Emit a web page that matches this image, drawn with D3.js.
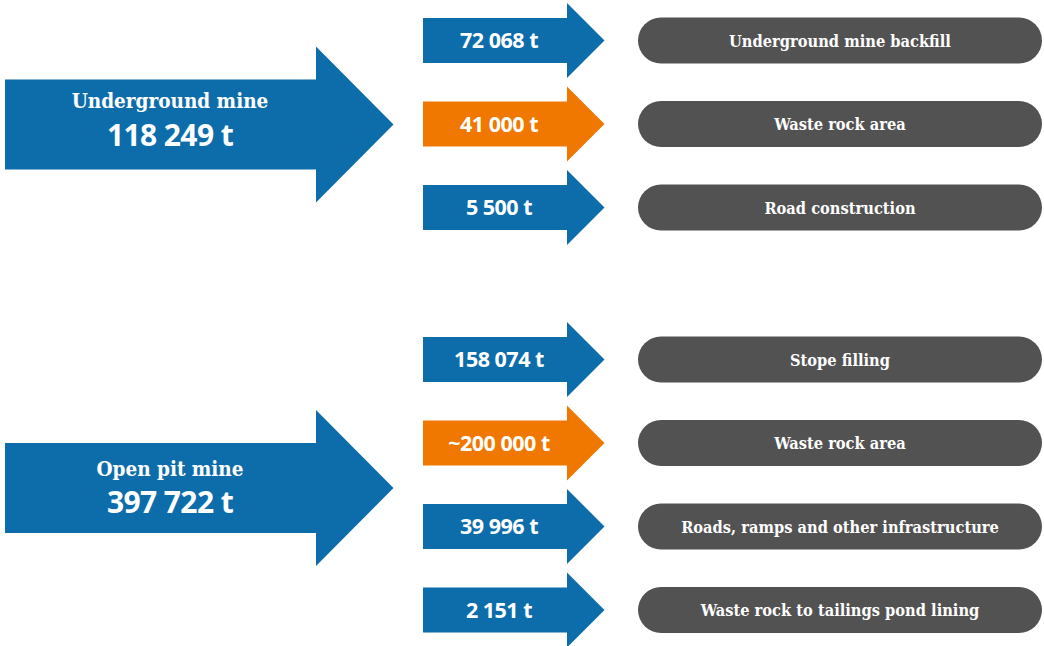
<!DOCTYPE html>
<html>
<head>
<meta charset="utf-8">
<script src="https://cdn.jsdelivr.net/npm/d3@7"></script>
<style>
  html, body { margin: 0; padding: 0; background: #ffffff; }
  svg { display: block; }
</style>
</head>
<body>
<svg id="chart" width="1044" height="646"></svg>
<script>
// ---- data ----
const sourceNames = ["Underground mine", "Open pit mine"];
const sourceTotals = [118249, 397722];

const flowGroup = [0, 0, 0, 1, 1, 1, 1];
const flowValues = [72068, 41000, 5500, 158074, 200000, 39996, 2151];
const flowApprox = [false, false, false, false, true, false, false];
const flowDestinations = [
  "Underground mine backfill",
  "Waste rock area",
  "Road construction",
  "Stope filling",
  "Waste rock area",
  "Roads, ramps and other infrastructure",
  "Waste rock to tailings pond lining"
];
const flowKind = ["use", "waste", "use", "use", "waste", "use", "use"];

// ---- layout & style ----
const W = 1044, H = 646;
const blue = "#0d6dab", orange = "#f07700", gray = "#525252";
const serif = "'DejaVu Serif Condensed', 'DejaVu Serif', serif";
const sans = "'Open Sans', 'Noto Sans', sans-serif";

const locale = d3.formatLocale({ decimal: ".", thousands: " ", grouping: [3], currency: ["", ""] });
const fmt = locale.format(",d");
const label = (v, approx) => (approx ? "~" : "") + fmt(v) + " t";

const svg = d3.select("#chart");

// row position within each group
const groupTop = [40.5, 359.5];
const rowStep = d3.scaleLinear().domain([0, 1]).range([0, 83.5]);
const rowIndex = flowGroup.map((g, i) => flowGroup.slice(0, i).filter(x => x === g).length);
const yCenter = i => groupTop[flowGroup[i]] + rowStep(rowIndex[i]);

const color = d3.scaleOrdinal().domain(["use", "waste"]).range([blue, orange]);

// horizontal scale for columns
const x = d3.scaleLinear().domain([0, 1]).range([0, W]);

// arrow path generator
function arrowPath(x0, xBase, xTip, cy, shaftH, headH) {
  const p = d3.path();
  p.moveTo(x0, cy - shaftH / 2);
  p.lineTo(xBase, cy - shaftH / 2);
  p.lineTo(xBase, cy - headH / 2);
  p.lineTo(xTip, cy);
  p.lineTo(xBase, cy + headH / 2);
  p.lineTo(xBase, cy + shaftH / 2);
  p.lineTo(x0, cy + shaftH / 2);
  p.closePath();
  return p.toString();
}

// ---- big source arrows ----
const bigCenter = [124.5, 488];
const bigLabelDy = [-17, -12.5];
const bigNumDy = [21.5, 24.5];
const big = svg.append("g").selectAll("g")
  .data(sourceNames.map((n, i) => ({ name: n, total: sourceTotals[i], i })))
  .join("g");

big.append("path")
  .attr("d", d => arrowPath(x(5 / W), x(316 / W), x(393.5 / W), bigCenter[d.i], 90, 156))
  .attr("fill", blue);

big.append("text")
  .attr("x", 170)
  .attr("y", d => bigCenter[d.i] + bigLabelDy[d.i])
  .attr("text-anchor", "middle")
  .attr("fill", "#fff")
  .style("font-family", serif)
  .style("font-weight", "bold")
  .style("font-size", "20.5px")
  .text(d => d.name);

big.append("text")
  .attr("x", 170)
  .attr("y", d => bigCenter[d.i] + bigNumDy[d.i])
  .attr("text-anchor", "middle")
  .attr("fill", "#fff")
  .style("font-family", sans)
  .style("font-weight", "bold")
  .style("font-size", "30px")
  .style("letter-spacing", "-0.6px")
  .text(d => label(d.total, false));

// ---- flow arrows ----
const flows = flowValues.map((v, i) => ({
  v, i, approx: flowApprox[i], dest: flowDestinations[i], kind: flowKind[i]
}));

const fl = svg.append("g").selectAll("g").data(flows).join("g");

fl.append("path")
  .attr("d", d => arrowPath(x(423 / W), x(567 / W), x(604.5 / W), yCenter(d.i), 45, 75))
  .attr("fill", d => color(d.kind));

fl.append("text")
  .attr("x", 499)
  .attr("y", d => yCenter(d.i) + 7.5)
  .attr("text-anchor", "middle")
  .attr("fill", "#fff")
  .style("font-family", sans)
  .style("font-weight", "bold")
  .style("font-size", "21.5px")
  .style("letter-spacing", "-0.5px")
  .text(d => label(d.v, d.approx));

// ---- destination pills ----
fl.append("rect")
  .attr("x", x(638 / W))
  .attr("y", d => yCenter(d.i) - 23)
  .attr("width", 404)
  .attr("height", 46)
  .attr("rx", 23)
  .attr("ry", 23)
  .attr("fill", gray);

fl.append("text")
  .attr("x", 840)
  .attr("y", d => yCenter(d.i) + 6)
  .attr("text-anchor", "middle")
  .attr("fill", "#fff")
  .style("font-family", serif)
  .style("font-weight", "bold")
  .style("font-size", "16.3px")
  .text(d => d.dest);
</script>
</body>
</html>
